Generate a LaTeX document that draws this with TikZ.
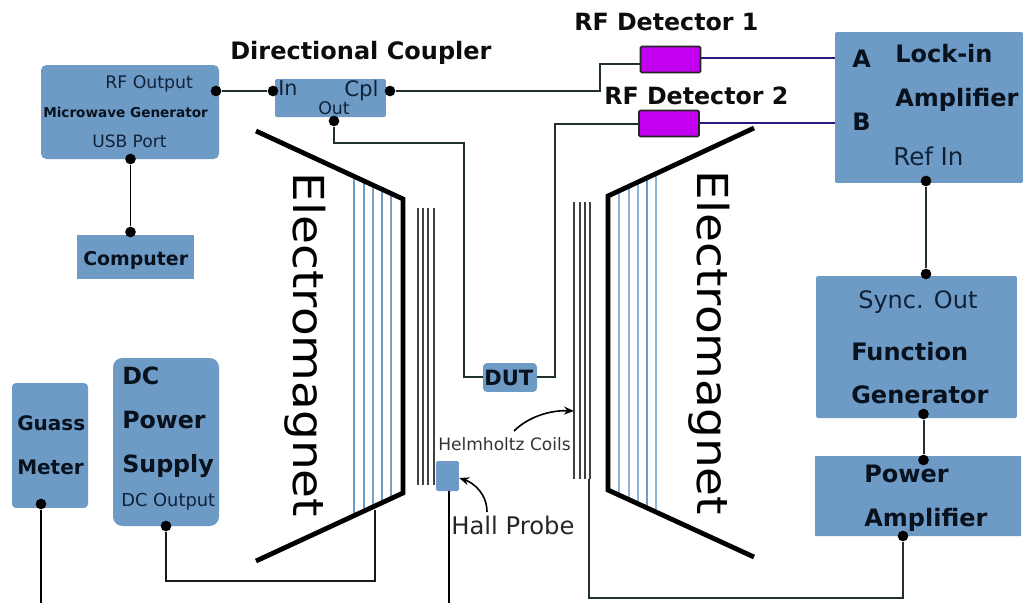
\documentclass[tikz,border=0pt]{standalone}
\usepackage{fontspec}
\setmainfont{DejaVu Sans}
\definecolor{boxblue}{HTML}{6E9BC5}
\definecolor{txtdark}{HTML}{0F2238}
\definecolor{txtbold}{HTML}{08121F}
\definecolor{wire}{HTML}{22302F}
\definecolor{coilblue}{HTML}{6C9CC8}
\definecolor{coilgrey}{HTML}{7F9DB8}
\definecolor{coillight}{HTML}{8DB4D6}
\definecolor{navyline}{HTML}{2A1A80}
\definecolor{detfill}{HTML}{C400F0}
\usetikzlibrary{arrows.meta}
\tikzset{
 blk/.style={fill=boxblue,rounded corners=#1,inner sep=0pt},
 blk/.default=1.5pt,
 lab/.style={text=txtdark,inner sep=0pt,anchor=base west,font=\fontsize{#1}{#1}\selectfont},
 blab/.style={text=txtbold,inner sep=0pt,anchor=base west,font=\fontsize{#1}{#1}\selectfont\bfseries},
 head/.style={text=black!95,inner sep=0pt,anchor=base west,font=\fontsize{#1}{#1}\selectfont\bfseries},
 wireln/.style={draw=wire,line width=1.5pt},
 port/.style={circle,fill=black,inner sep=0pt,minimum size=8pt},
 magnet/.style={draw=black,line width=3.6pt,line join=miter},
 coil/.style={draw=black!75,line width=1.25pt},
 bcoil/.style={draw=coilblue,line width=1pt},
 gcoil/.style={draw=coilgrey,line width=1pt},
 lcoil/.style={draw=coillight,line width=1.1pt},
 det/.style={fill=detfill,draw=black!85,line width=1.2pt,rounded corners=1pt,inner sep=0pt},
 emag/.style={inner sep=0pt,rotate=-90,text=black,font=\fontsize{32}{32}\selectfont},
}
\begin{document}
\begin{tikzpicture}[x=0.75pt,y=-0.75pt]
\useasboundingbox (0,0) rectangle (1023,603);
% boxes
\node[blk=4pt,minimum width=133.5pt,minimum height=70.5pt] (mw) at (130,112) {};
\node[blk,minimum width=83.2pt,minimum height=28.5pt] (dc) at (330.5,98) {};
\node[blk=0pt,minimum width=87.7pt,minimum height=33pt] (comp) at (135.5,257) {};
\node[blk=3pt,minimum width=57pt,minimum height=93.7pt] (gm) at (50,445.5) {};
\node[blk=7pt,minimum width=79.5pt,minimum height=126pt] (ps) at (166,442) {};
\node[blk=3pt,minimum width=40.5pt,minimum height=21.7pt] (dut) at (510,377.5) {};
\node[blk=1.5pt,minimum width=17.2pt,minimum height=22.5pt] (hp) at (447.5,476) {};
\node[blk,minimum width=141pt,minimum height=113.2pt] (li) at (929,107.5) {};
\node[blk,minimum width=150.7pt,minimum height=106.5pt] (fg) at (916.5,347) {};
\node[blk=0.5pt,minimum width=154.5pt,minimum height=60pt] (pa) at (918,496) {};
\node[det,minimum width=45pt,minimum height=19.5pt] (d1) at (670.5,59.5) {};
\node[det,minimum width=45pt,minimum height=19.5pt] (d2) at (669,123.5) {};
% magnet windings
\draw[bcoil] (354,177) -- (354,516);
\draw[bcoil] (364,181) -- (364,511);
\draw[gcoil] (373,186) -- (373,507);
\draw[bcoil] (382,190) -- (382,503);
\draw[gcoil] (391,194) -- (391,499);
\draw[lcoil] (619,192) -- (619,495);
\draw[lcoil] (629,187) -- (629,499);
\draw[lcoil] (638,183) -- (638,504);
\draw[bcoil] (647,179) -- (647,508);
\draw[lcoil] (656,175) -- (656,512);
% magnets
\draw[magnet] (256,131) -- (403,199) -- (403,493) -- (256,561);
\draw[magnet] (754,128) -- (608,196) -- (608,490) -- (754,557);
% Helmholtz coils
\foreach \x in {418,423,428,434} \draw[coil] (\x,208) -- (\x,485);
\foreach \x in {574,580,585,590} \draw[coil] (\x,202) -- (\x,479);
% ports
\node[port] (p1) at (216,91) {};
\node[port] (p2) at (273,91) {};
\node[port] (p3) at (390,91) {};
\node[port] (p4) at (334,121) {};
\node[port] (p5) at (130.5,159) {};
\node[port] (p6) at (130.5,232) {};
\node[port] (p7) at (926,181) {};
\node[port] (p8) at (926,274) {};
\node[port] (p9) at (923.5,414) {};
\node[port] (p10) at (923.5,460) {};
\node[port] (p11) at (903,536) {};
\node[port] (p12) at (166,526) {};
\node[port] (p13) at (41,504) {};
\coordinate (c1) at (375,510);
\coordinate (c2) at (589,479);
\coordinate (e1) at (41,603);
\coordinate (e2) at (449,603);
% connectors
\draw[wireln] (p1) -- (p2);
\draw[wireln] (p3) -- (600,91) -- (600,64) -- (d1.west |- 0,64);
\draw[wireln] (p4) -- (334,143) -- (464,143) -- (464,377) -- (dut.west |- 0,377);
\draw[wireln] (dut.east |- 0,377) -- (555,377) -- (555,124) -- (d2.west |- 0,124);
\draw[navyline,line width=1.3pt] (d1.east |- 0,58) -- (li.west |- 0,58);
\draw[navyline,line width=1.3pt] (d2.east |- 0,123) -- (li.west |- 0,123);
\draw[black,line width=1.4pt] (p5) -- (p6);
\draw[wireln] (p7) -- (p8);
\draw[wireln] (p9) -- (p10);
\draw[wireln] (p11) -- (903,598) -- (589,598) -- (c2);
\draw[black!90,line width=1.4pt] (p12) -- (166,581) -- (375,581) -- (c1);
\draw[black,line width=1.3pt] (p13) -- (e1);
\draw[black,line width=1.3pt] (hp.south -| e2) -- (e2);
% arrows
\coordinate (a1) at (487,512);
\coordinate (a2) at (514,431);
\draw[black,line width=1.2pt,-{Stealth[length=7.5pt,width=6pt]}] (a1) .. controls (487,494) and (474,483) .. (hp.east |- 0,478);
\draw[black,line width=1.2pt,-{Stealth[length=7.5pt,width=6pt]}] (a2) .. controls (528,417) and (550,410) .. (574,411);
% texts
\node[head=18] (t1) at (230,59) {Directional Coupler};
\node[head=17.8] (t2) at (574,30) {RF Detector 1};
\node[head=17.8] (t3) at (604,104) {RF Detector 2};
\node[lab=13] (t4) at (105,88) {RF Output};
\node[blab=10.2] (t5) at (43,117) {Microwave Generator};
\node[lab=12.8] (t6) at (92,147) {USB Port};
\node[lab=15.5] (t7) at (278,95) {In};
\node[lab=16] (t8) at (344,96) {Cpl};
\node[lab=13] (t9) at (318,114) {Out};
\node[blab=14.2] (t10) at (83,265) {Computer};
\node[blab=15] (t11) at (17,430) {Guass};
\node[blab=15] (t12) at (17,474) {Meter};
\node[blab=17.8] (t13) at (122,384) {DC};
\node[blab=17.8] (t14) at (122,428) {Power};
\node[blab=17.8] (t15) at (122,472) {Supply};
\node[lab=13.4] (t16) at (121,506) {DC Output};
\node[blab=15.8] (t17) at (484,385) {DUT};
\node[lab=12.8,text=black!80] (t18) at (438,450) {Helmholtz Coils};
\node[lab=18.2,text=black!85] (t19) at (451,534) {Hall Probe};
\node[blab=18] (t20) at (852,67) {A};
\node[blab=18] (t21) at (852,130) {B};
\node[blab=18] (t22) at (895,62) {Lock-in};
\node[blab=18] (t23) at (895,106) {Amplifier};
\node[lab=18.4] (t24) at (893,165) {Ref In};
\node[lab=18] (t25) at (858,308) {Sync. Out};
\node[blab=18] (t26) at (851,360) {Function};
\node[blab=18] (t27) at (851,403) {Generator};
\node[blab=18] (t28) at (864,482) {Power};
\node[blab=18] (t29) at (864,526) {Amplifier};
\node[emag] (m1) at (305,345) {\scalebox{1.1}[1]{Electromagnet}};
\node[emag] (m2) at (709,343) {\scalebox{1.1}[1]{Electromagnet}};
\end{tikzpicture}
\end{document}
